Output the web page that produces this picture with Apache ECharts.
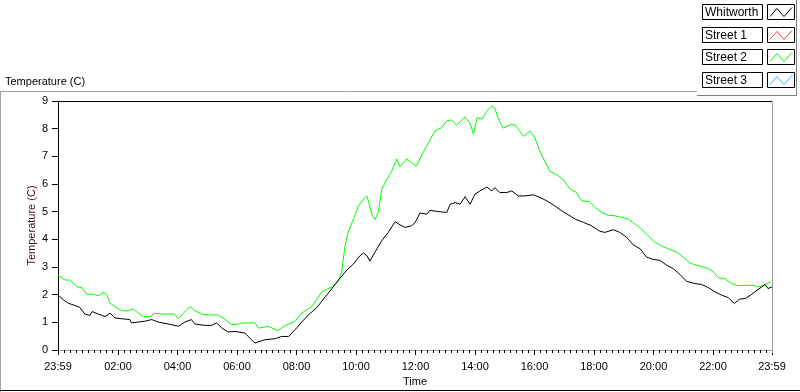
<!DOCTYPE html>
<html>
<head>
<meta charset="utf-8">
<style>
html,body{margin:0;padding:0;background:#fff;overflow:hidden;}
#chart{width:100vw;height:100vh;}
</style>
<script src="https://cdn.jsdelivr.net/npm/echarts@6/dist/echarts.min.js"></script>
</head>
<body>
<div id="chart"></div>
<script>
// x values are minutes elapsed since 23:59 of the previous day (0 .. 1440)
const seriesNames = ['Whitworth', 'Street 1', 'Street 2', 'Street 3'];
const seriesColors = ['#000000', '#ff3c3c', '#00ff00', '#38b6ff'];

const whitworthTimes = [0,11,21,34,44,54,64,69,81,95,105,115,128,145,148,162,175,189,202,222,243,256,269,276,296,310,320,330,343,357,377,397,417,438,451,465,478,491,505,522,539,555,569,582,596,609,616,623,629,639,653,666,680,690,700,713,720,730,744,750,764,784,791,801,811,821,831,841,851,865,875,881,891,905,915,928,942,959,972,986,1002,1016,1029,1043,1060,1076,1093,1103,1120,1133,1147,1160,1174,1187,1201,1214,1228,1241,1255,1268,1285,1298,1312,1325,1339,1352,1364,1375,1386,1399,1413,1426,1432,1440];
const whitworthTemps = [1.99,1.81,1.69,1.61,1.54,1.30,1.25,1.39,1.30,1.21,1.33,1.16,1.13,1.10,0.98,1.01,1.04,1.10,1.01,0.94,0.86,1.01,1.10,0.94,0.89,0.89,0.98,0.80,0.65,0.67,0.61,0.25,0.37,0.41,0.49,0.49,0.73,1.00,1.27,1.53,1.92,2.28,2.60,2.88,3.11,3.41,3.50,3.41,3.21,3.53,3.95,4.25,4.64,4.52,4.43,4.49,4.60,4.95,4.91,5.05,5.01,4.97,5.27,5.33,5.27,5.54,5.27,5.63,5.75,5.89,5.75,5.87,5.69,5.69,5.75,5.57,5.57,5.61,5.51,5.39,5.21,5.03,4.89,4.73,4.61,4.49,4.29,4.25,4.35,4.25,4.07,3.80,3.66,3.36,3.27,3.24,3.06,2.94,2.72,2.48,2.40,2.37,2.25,2.10,1.98,1.89,1.68,1.84,1.86,2.01,2.20,2.37,2.22,2.28];

const street2Times = [0,14,24,38,48,58,71,81,91,98,105,115,128,142,152,158,172,186,196,209,226,235,243,253,266,276,290,303,323,337,350,360,370,397,404,424,444,458,478,491,512,532,552,565,572,579,585,596,606,616,623,633,639,646,653,663,673,683,690,703,713,723,734,747,760,774,784,794,804,821,831,838,845,855,865,875,881,888,898,912,922,939,952,962,972,982,992,1006,1019,1033,1046,1056,1073,1083,1097,1110,1123,1137,1150,1164,1177,1190,1204,1218,1231,1248,1261,1275,1288,1302,1312,1322,1332,1345,1359,1372,1386,1399,1413,1426,1438];
const street2Temps = [2.71,2.53,2.53,2.29,2.25,2.02,2.02,1.96,2.08,2.02,1.69,1.57,1.42,1.42,1.49,1.39,1.21,1.21,1.33,1.30,1.30,1.30,1.13,1.33,1.57,1.42,1.30,1.27,1.27,1.10,0.92,0.92,0.97,0.99,0.79,0.85,0.70,0.88,1.03,1.33,1.57,2.10,2.28,2.48,2.82,3.77,4.25,4.73,5.21,5.45,5.57,4.91,4.71,4.98,5.81,6.16,6.46,6.91,6.62,6.91,6.77,6.65,7.06,7.48,7.92,8.04,8.28,8.32,8.12,8.43,8.19,7.80,8.40,8.35,8.64,8.83,8.74,8.35,8.02,8.14,8.14,7.72,7.92,7.66,7.18,6.82,6.46,6.34,6.16,5.81,5.69,5.39,5.36,5.15,4.97,4.87,4.85,4.79,4.73,4.55,4.37,4.13,3.90,3.75,3.66,3.54,3.36,3.14,3.06,3.00,2.94,2.82,2.61,2.58,2.40,2.32,2.34,2.34,2.28,2.37,2.46];

const street1Times = [];
const street1Temps = [];
const street3Times = [];
const street3Temps = [];

// x tick positions (minutes since 23:59): labelled major ticks and 12-minute minor ticks
const majorTicks = [0,121,241,361,481,601,721,841,961,1081,1201,1321,1440];
const minorTicks = [];
for (let t = 1; t < 1440; t += 12) minorTicks.push(t);

const yMin = 0, yMax = 9, yStep = 1;

function pairs(ts, vs) { return ts.map((t, i) => [t, vs[i]]); }
function fmtTime(t) {
  const m = (Math.round(t) + 1439) % 1440;
  const h = Math.floor(m / 60), mm = m % 60;
  return String(h).padStart(2, '0') + ':' + String(mm).padStart(2, '0');
}

const FONT = 'Liberation Sans, Arial, sans-serif';
const seriesData = [
  pairs(whitworthTimes, whitworthTemps),
  pairs(street1Times, street1Temps),
  pairs(street2Times, street2Temps),
  pairs(street3Times, street3Temps)
];

// frame + LabVIEW-style legend boxes drawn as graphics
const graphics = [
  { type: 'line', shape: { x1: 0, y1: 91.5, x2: 697, y2: 91.5 }, style: { stroke: '#a0a0a0', lineWidth: 1 } },
  { type: 'line', shape: { x1: 0.5, y1: 91.5, x2: 0.5, y2: 392 }, style: { stroke: '#a0a0a0', lineWidth: 1 } },
  { type: 'line', shape: { x1: 0, y1: 390.5, x2: 800, y2: 390.5 }, style: { stroke: '#000', lineWidth: 1 } },
  { type: 'line', shape: { x1: 697, y1: 95.5, x2: 797, y2: 95.5 }, style: { stroke: '#808080', lineWidth: 1 } },
  { type: 'line', shape: { x1: 796.5, y1: 0, x2: 796.5, y2: 95.5 }, style: { stroke: '#808080', lineWidth: 1 } },
  { type: 'line', shape: { x1: 772.5, y1: 101, x2: 772.5, y2: 353 }, style: { stroke: '#9a9a9a', lineWidth: 1 }, z: 10 }
];
seriesNames.forEach((name, i) => {
  const y0 = Math.round(4 + i * 22.7) + 0.5;
  graphics.push({ type: 'rect', shape: { x: 702.5, y: y0, width: 60, height: 15 }, style: { fill: '#fff', stroke: '#000', lineWidth: 1 } });
  graphics.push({ type: 'text', style: { x: 705, y: y0 + 8, text: name, font: '12px ' + FONT, fill: '#000', verticalAlign: 'middle' } });
  graphics.push({ type: 'rect', shape: { x: 767.5, y: y0, width: 27, height: 15 }, style: { fill: '#fff', stroke: '#000', lineWidth: 1 } });
  graphics.push({ type: 'polyline', shape: { points: [[770, y0 + 12], [777, y0 + 4], [784, y0 + 12], [792, y0 + 3]] }, style: { stroke: seriesColors[i], lineWidth: 1, fill: 'none' } });
});

const chart = echarts.init(document.getElementById('chart'), null, { renderer: 'canvas' });
chart.setOption({
  animation: false,
  backgroundColor: '#fff',
  title: {
    text: 'Temperature (C)', left: 5, top: 76, padding: 0,
    textStyle: { fontFamily: FONT, fontSize: 11, fontWeight: 'normal', color: '#000' }
  },
  grid: { left: 58, top: 101, right: 28, bottom: 39, containLabel: false },
  xAxis: [
    {
      type: 'value', min: 0, max: 1440, position: 'bottom',
      name: 'Time', nameLocation: 'middle', nameGap: 26, nameMoveOverlap: false,
      nameTextStyle: { fontFamily: FONT, fontSize: 11, color: '#000' },
      axisLine: { lineStyle: { color: '#a0a0a0', width: 1 } },
      axisTick: { show: true, length: 5, lineStyle: { color: '#000' }, customValues: majorTicks },
      axisLabel: { customValues: majorTicks, formatter: fmtTime, fontFamily: FONT, fontSize: 11, color: '#000', margin: 11, showMinLabel: true, showMaxLabel: true },
      splitLine: { show: false }
    },
    {
      type: 'value', min: 0, max: 1440, position: 'bottom',
      axisLine: { show: false },
      axisTick: { show: true, length: 3, lineStyle: { color: '#000' }, customValues: minorTicks },
      axisLabel: { show: false },
      splitLine: { show: false }
    },
    {
      type: 'value', min: 0, max: 1440, position: 'top',
      axisLine: { show: true, lineStyle: { color: '#000', width: 1 } },
      axisTick: { show: false }, axisLabel: { show: false }, splitLine: { show: false }
    }
  ],
  yAxis: [
    {
      type: 'value', min: yMin, max: yMax, interval: yStep, position: 'left',
      name: 'Temperature (C)', nameLocation: 'middle', nameGap: 21, nameMoveOverlap: false,
      nameTextStyle: { fontFamily: FONT, fontSize: 11, color: '#401010' },
      axisLine: { show: true, lineStyle: { color: '#000', width: 1 } },
      axisTick: { show: true, length: 6, lineStyle: { color: '#000' } },
      axisLabel: { fontFamily: FONT, fontSize: 11, color: '#000', margin: 10 },
      splitLine: { show: false }
    }
  ],
  graphic: graphics,
  series: seriesNames.map((name, i) => ({
    name: name, type: 'line', xAxisIndex: 0, yAxisIndex: 0,
    data: seriesData[i], showSymbol: false, symbol: 'none',
    lineStyle: { color: seriesColors[i], width: 1 },
    itemStyle: { color: seriesColors[i] },
    z: i === 0 ? 3 : 2
  }))
});
</script>
</body>
</html>
